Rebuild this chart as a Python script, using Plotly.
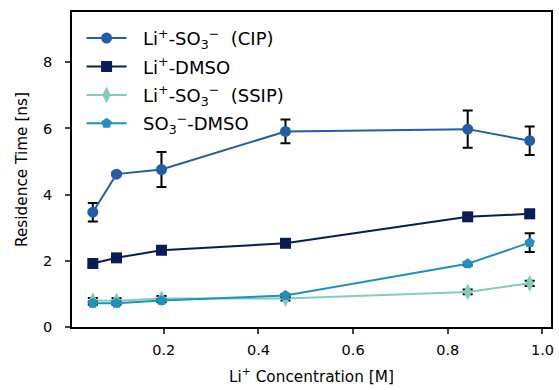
import plotly.graph_objects as go

conc = [0.05, 0.10, 0.195, 0.457, 0.842, 0.973]

cip = [3.47, 4.62, 4.76, 5.91, 5.98, 5.63]
cip_err = [0.28, 0.05, 0.53, 0.36, 0.56, 0.43]

dmso = [1.92, 2.09, 2.32, 2.53, 3.33, 3.42]
dmso_err = [0.10, 0.04, 0.06, 0.10, 0.07, 0.12]

ssip = [0.80, 0.79, 0.86, 0.86, 1.06, 1.32]
ssip_err = [0.08, 0.08, 0.08, 0.06, 0.07, 0.08]

so3 = [0.72, 0.72, 0.80, 0.95, 1.91, 2.55]
so3_err = [0.05, 0.05, 0.05, 0.05, 0.05, 0.28]

NB = "\u00a0\u00a0"
series = [
    (NB + "Li<sup>+</sup>-SO<sub>3</sub><sup>−</sup>  (CIP)", cip, cip_err, "#225ea8", "circle", 11),
    (NB + "Li<sup>+</sup>-DMSO", dmso, dmso_err, "#081d58", "square", 11),
    (NB + "Li<sup>+</sup>-SO<sub>3</sub><sup>−</sup>  (SSIP)", ssip, ssip_err, "#7fcdbb", "diamond-tall", 12),
    (NB + "SO<sub>3</sub><sup>−</sup>-DMSO", so3, so3_err, "#1d91c0", "pentagon", 11),
]

fig = go.Figure()
for i, (name, y, err, color, sym, sz) in enumerate(series):
    fig.add_trace(go.Scatter(
        x=conc, y=y, name=name, mode="lines+markers",
        legendgroup="g%d" % i,
        line=dict(color=color, width=2),
        marker=dict(symbol=sym, size=sz, color=color),
        error_y=dict(type="data", array=err, visible=True, color="black",
                     thickness=2, width=5),
    ))

fig.update_layout(
    width=559, height=390,
    margin=dict(l=72, r=5, t=12, b=63),
    paper_bgcolor="white", plot_bgcolor="white",
    font=dict(family="DejaVu Sans", size=14, color="black"),
    showlegend=True,
    legend=dict(x=0.02, y=0.975, xanchor="left", yanchor="top",
                bgcolor="rgba(0,0,0,0)", font=dict(size=18),
                itemwidth=40, tracegroupgap=2),
)
fig.update_xaxes(
    range=[0.006, 1.018], tickvals=[0.2, 0.4, 0.6, 0.8, 1.0],
    ticktext=["0.2", "0.4", "0.6", "0.8", "1.0"],
    showgrid=False, zeroline=False, showline=True, linecolor="black",
    linewidth=1.5, mirror=True, ticks="outside", ticklen=5, tickwidth=1.5,
    tickfont=dict(size=14.5), ticklabelstandoff=4,
    title=dict(text="Li<sup>+</sup> Concentration [M]", font=dict(size=15.3), standoff=14),
)
fig.update_yaxes(
    range=[0, 9.52], tickvals=[0, 2, 4, 6, 8],
    showgrid=False, zeroline=False, showline=True, linecolor="black",
    linewidth=1.5, mirror=True, ticks="outside", ticklen=5, tickwidth=1.5,
    tickfont=dict(size=14.5), ticklabelstandoff=10,
    title=dict(text="Residence Time [ns]", font=dict(size=15.3), standoff=12),
)

fig.write_html("out.html")
